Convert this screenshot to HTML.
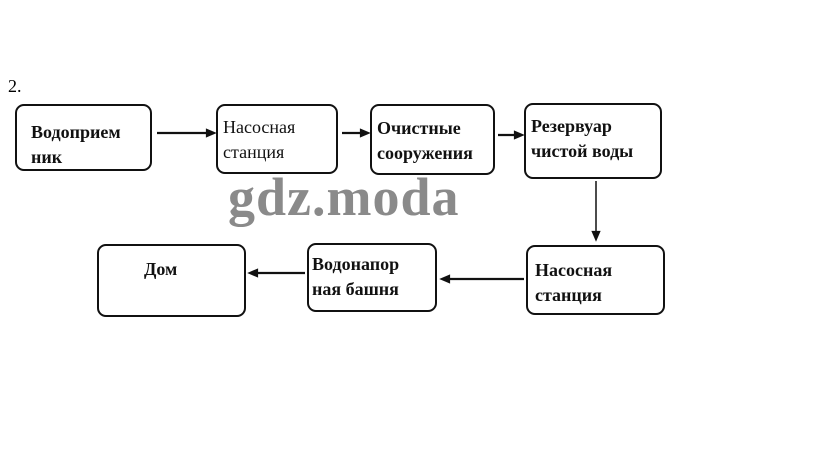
<!DOCTYPE html>
<html><head><meta charset="utf-8"><style>
body{margin:0;width:823px;height:451px;background:#fff;position:relative;overflow:hidden;font-family:"Liberation Serif",serif;}
.b{position:absolute;border:2.5px solid #111;border-radius:9px;box-sizing:border-box;font-weight:bold;font-size:18px;line-height:25px;color:#111;}
.t{position:absolute;white-space:nowrap;}
</style></head><body>
<div class="t" style="left:8px;top:76px;font-size:18px;">2.</div>
<div class="b" style="left:15px;top:104px;width:137px;height:67px;"><span class="t" style="left:14px;top:14px;">Водоприем<br>ник</span></div>
<div class="b" style="left:216px;top:104px;width:122px;height:70px;"><span class="t" style="left:5px;top:9px;font-weight:normal;">Насосная<br>станция</span></div>
<div class="b" style="left:370px;top:104px;width:125px;height:71px;"><span class="t" style="left:5px;top:10px;">Очистные<br>сооружения</span></div>
<div class="b" style="left:524px;top:103px;width:138px;height:76px;"><span class="t" style="left:5px;top:9px;">Резервуар<br>чистой воды</span></div>
<div class="b" style="left:526px;top:245px;width:139px;height:70px;"><span class="t" style="left:7px;top:11px;">Насосная<br>станция</span></div>
<div class="b" style="left:307px;top:243px;width:130px;height:69px;"><span class="t" style="left:3px;top:7px;">Водонапор<br>ная башня</span></div>
<div class="b" style="left:97px;top:244px;width:149px;height:73px;"><span class="t" style="left:45px;top:11px;">Дом</span></div>
<div class="t" style="left:228px;top:166px;font-size:54px;font-weight:bold;color:#8a8a8a;letter-spacing:1px;">gdz.moda</div>
<svg width="823" height="451" style="position:absolute;left:0;top:0">
<g stroke="#111" stroke-width="2.2" fill="#111">
<line x1="157" y1="133" x2="212" y2="133"/><path d="M214 133 l-7 -3 v6z"/>
<line x1="342" y1="133" x2="366" y2="133"/><path d="M368 133 l-7 -3 v6z"/>
<line x1="498" y1="135" x2="520" y2="135"/><path d="M522 135 l-7 -3 v6z"/>
<line x1="596" y1="181" x2="596" y2="236" stroke-width="1.5"/><path d="M596 239 l-3 -7 h6z"/>
<line x1="524" y1="279" x2="445" y2="279"/><path d="M442 279 l7 -3 v6z"/>
<line x1="305" y1="273" x2="254" y2="273"/><path d="M250 273 l7 -3 v6z"/>
</g></svg>
</body></html>
